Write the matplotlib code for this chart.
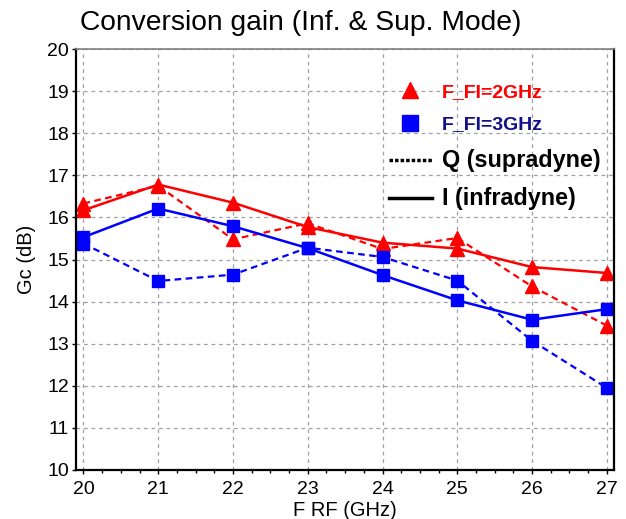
import matplotlib
matplotlib.use("Agg")
import matplotlib.pyplot as plt
from matplotlib.lines import Line2D
from matplotlib.ticker import MultipleLocator

plt.rcParams['font.family'] = ['Liberation Sans', 'DejaVu Sans']

freq = [20, 21, 22, 23, 24, 25, 26, 27]

# F_FI = 2 GHz
red_infra = [16.17, 16.78, 16.35, 15.77, 15.40, 15.26, 14.82, 14.68]
red_supra = [16.33, 16.75, 15.48, 15.86, 15.25, 15.51, 14.36, 13.43]

# F_FI = 3 GHz
blue_infra = [15.53, 16.21, 15.79, 15.27, 14.63, 14.03, 13.57, 13.82]
blue_supra = [15.38, 14.49, 14.64, 15.28, 15.06, 14.50, 13.07, 11.95]

RED = '#ff0000'
BLUE = '#0000ff'

fig = plt.figure(figsize=(6.26, 5.19), dpi=100)
ax = fig.add_axes([76 / 626, 1 - 470 / 519, (613.5 - 76) / 626, (470 - 49) / 519])

ax.plot(freq, red_infra, color=RED, lw=1.8, marker='^', ms=10, ls='-')
ax.plot(freq, red_supra, color=RED, lw=1.6, marker='^', ms=10, ls=(0, (3, 2)))
ax.plot(freq, blue_infra, color=BLUE, lw=1.8, marker='s', ms=9, ls='-')
ax.plot(freq, blue_supra, color=BLUE, lw=1.6, marker='s', ms=9, ls=(0, (3, 2)))

ax.set_xlim(19.9, 27.09)
ax.set_ylim(10, 20)
ax.xaxis.set_major_locator(MultipleLocator(1))
ax.xaxis.set_minor_locator(MultipleLocator(0.25))
ax.yaxis.set_major_locator(MultipleLocator(1))
ax.tick_params(which='both', direction='out', length=3, width=1, labelsize=14)
ax.tick_params(axis='x', pad=5)
ax.tick_params(axis='y', pad=2)
ax.tick_params(which='minor', length=2)

ax.grid(True, which='major', color='#a0a0a0', ls=(0, (3, 3)), lw=0.9)
for side in ['left', 'bottom', 'right']:
    ax.spines[side].set_linewidth(1.6)
    ax.spines[side].set_color('black')
ax.spines['top'].set_color('#808080')
ax.spines['top'].set_linewidth(1.2)

ax.set_xlabel('F RF (GHz)', fontsize=14.5, labelpad=2)
ax.set_ylabel('Gc (dB)', fontsize=14.5, labelpad=8)
fig.text(80 / 626, 1 - 23 / 519, 'Conversion gain (Inf. & Sup. Mode)',
         fontsize=20.3, va='center', ha='left')

handles = [
    Line2D([], [], color=RED, marker='^', ms=12, ls='none'),
    Line2D([], [], color=BLUE, marker='s', ms=11, ls='none'),
    Line2D([], [], color='black', lw=2.5, ls=(0, (1, 0.6))),
    Line2D([], [], color='black', lw=2.5, ls='-'),
]
labels = ['F_FI=2GHz', 'F_FI=3GHz', 'Q (supradyne)', 'I (infradyne)']
leg = ax.legend(handles, labels, loc='upper left',
                bbox_to_anchor=(389 / 626, 1 - 83 / 519),
                bbox_transform=fig.transFigure, frameon=False,
                prop={'weight': 'bold', 'size': 14},
                handlelength=2.2, handletextpad=0.5, labelspacing=0.78,
                borderaxespad=0, borderpad=0)
for txt, c, s in zip(leg.get_texts(), [RED, '#10108a', 'black', 'black'],
                     [14, 14, 16.8, 16.8]):
    txt.set_color(c)
    txt.set_fontsize(s)

fig.savefig('out.png', dpi=100)
